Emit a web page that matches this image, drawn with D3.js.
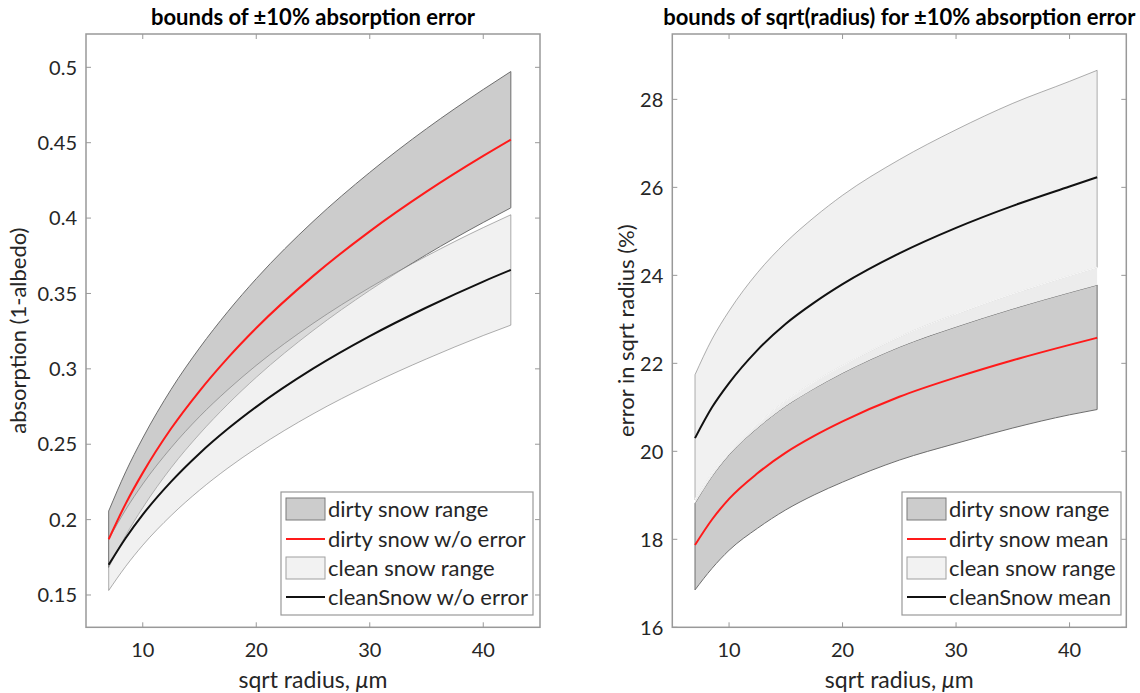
<!DOCTYPE html>
<html><head><meta charset="utf-8">
<script src="https://cdn.jsdelivr.net/npm/d3@7"></script>
<style>body{margin:0;background:#fff}svg{display:block}text{font-family:Lato,"Open Sans",sans-serif;fill:#262626}</style>
</head><body><svg id="c" width="1140" height="693"></svg>
<script>
// sqrt radius sample points (µm)
const sqrtRadius = [7, 8.5, 10, 12.5, 15, 17.5, 20, 25, 30, 35, 40, 42.43];

// Left panel: absorption (1-albedo)
const dirtyMean   = [0.187, 0.2106, 0.231, 0.2604, 0.2853, 0.3073, 0.3271, 0.3615, 0.3912, 0.4175, 0.4412, 0.452];
const dirtyUpper  = [0.2057, 0.2317, 0.2541, 0.2864, 0.3138, 0.3380, 0.3598, 0.3977, 0.4303, 0.4593, 0.4853, 0.4972];
const dirtyLower  = [0.1683, 0.1895, 0.2079, 0.2344, 0.2568, 0.2766, 0.2944, 0.3254, 0.3521, 0.3758, 0.3971, 0.4068];
const cleanMean   = [0.170, 0.1878, 0.2033, 0.2252, 0.2439, 0.2602, 0.2748, 0.3001, 0.3217, 0.3407, 0.3579, 0.3656];
const cleanUpper  = [0.1870, 0.2066, 0.2236, 0.2477, 0.2683, 0.2862, 0.3023, 0.3301, 0.3539, 0.3748, 0.3937, 0.4022];
const cleanLower  = [0.1530, 0.1690, 0.1830, 0.2027, 0.2195, 0.2342, 0.2473, 0.2701, 0.2895, 0.3066, 0.3221, 0.3290];

// Right panel: error in sqrt radius (%)
const dirtyErrMean  = [17.87, 18.45, 18.92, 19.50, 19.97, 20.35, 20.68, 21.24, 21.68, 22.07, 22.42, 22.58];
const dirtyErrUpper = [18.82, 19.43, 19.92, 20.53, 21.03, 21.43, 21.78, 22.37, 22.83, 23.24, 23.61, 23.78];
const dirtyErrLower = [16.85, 17.34, 17.75, 18.25, 18.67, 19.01, 19.30, 19.80, 20.18, 20.53, 20.83, 20.95];
const cleanErrMean  = [20.30, 21.00, 21.55, 22.30, 22.90, 23.38, 23.80, 24.50, 25.08, 25.58, 26.02, 26.23];
const cleanErrUpper = [21.74, 22.55, 23.19, 24.06, 24.75, 25.32, 25.82, 26.63, 27.31, 27.91, 28.41, 28.66];
const cleanErrLower = [18.90, 19.50, 19.98, 20.62, 21.15, 21.58, 21.95, 22.60, 23.12, 23.58, 23.99, 24.18];

const xTicks = [10, 20, 30, 40];
const yTicksLeft = [0.15, 0.2, 0.25, 0.3, 0.35, 0.4, 0.45, 0.5];
const yTicksRight = [16, 18, 20, 22, 24, 26, 28];

const titles = ["bounds of ±10% absorption error", "bounds of sqrt(radius) for ±10% absorption error"];
const yLabels = ["absorption (1-albedo)", "error in sqrt radius (%)"];
const legendLeft = ["dirty snow range", "dirty snow w/o error", "clean snow range", "cleanSnow w/o error"];
const legendRight = ["dirty snow range", "dirty snow mean", "clean snow range", "cleanSnow mean"];

const svg = d3.select("#c");
const AX = "#999999";

function panel(opt) {
  const x = d3.scaleLinear().domain([5, 45]).range([opt.left, opt.left + 454]);
  const y = d3.scaleLinear().domain(opt.yDomain).range([627.3, 34]);
  const g = svg.append("g");
  const idx = d3.range(sqrtRadius.length);
  const area = (lo, hi) => d3.area().x(i => x(sqrtRadius[i])).y0(i => y(lo[i])).y1(i => y(hi[i])).curve(d3.curveMonotoneX)(idx);
  const line = (v) => d3.line().x(i => x(sqrtRadius[i])).y(i => y(v[i])).curve(d3.curveMonotoneX)(idx);

  // dirty band
  g.append("path").attr("d", area(opt.dLo, opt.dHi) + "Z").attr("fill", "#cccccc").attr("stroke", "#6e6e6e").attr("stroke-width", 1);
  if (opt.fillGap) {
    g.append("path").attr("d", area(opt.dHi, opt.cLo)).attr("fill", "#ececec");
  }
  // clean band (semi-transparent, drawn on top)
  g.append("path").attr("d", area(opt.cLo, opt.cHi) + "Z").attr("fill", "#e6e6e6").attr("fill-opacity", 0.55)
    .attr("stroke", "#6e6e6e").attr("stroke-opacity", 0.55).attr("stroke-width", 1);
  if (opt.fillGap) {
    g.append("path").attr("d", line(opt.cLo)).attr("fill", "none").attr("stroke", "#f4f4f4").attr("stroke-width", 1.5);
  }
  g.append("path").attr("d", line(opt.dMean)).attr("fill", "none").attr("stroke", "#ff1a1a").attr("stroke-width", 2);
  g.append("path").attr("d", line(opt.cMean)).attr("fill", "none").attr("stroke", "#111").attr("stroke-width", 2);

  // axes box
  const x0 = x.range()[0], x1 = x.range()[1], y0 = 627.3, y1 = 34;
  g.append("rect").attr("x", x0).attr("y", y1).attr("width", x1 - x0).attr("height", y0 - y1)
    .attr("fill", "none").attr("stroke", AX).attr("stroke-width", 1.5);
  const tl = 5;
  xTicks.forEach(t => {
    g.append("line").attr("x1", x(t)).attr("x2", x(t)).attr("y1", y0).attr("y2", y0 - tl).attr("stroke", AX);
    g.append("line").attr("x1", x(t)).attr("x2", x(t)).attr("y1", y1).attr("y2", y1 + tl).attr("stroke", AX);
    g.append("text").attr("x", x(t)).attr("y", 657).attr("text-anchor", "middle").attr("font-size", 20).text(t);
  });
  opt.yTicks.forEach(t => {
    g.append("line").attr("x1", x0).attr("x2", x0 + tl).attr("y1", y(t)).attr("y2", y(t)).attr("stroke", AX);
    g.append("line").attr("x1", x1).attr("x2", x1 - tl).attr("y1", y(t)).attr("y2", y(t)).attr("stroke", AX);
    g.append("text").attr("x", x0 - 9).attr("y", y(t)).attr("dy", "0.36em").attr("text-anchor", "end").attr("font-size", 20).text(opt.fmt(t));
  });
  // x label
  const xl = g.append("text").attr("x", (x0 + x1) / 2).attr("y", 688).attr("text-anchor", "middle").attr("font-size", 23);
  xl.append("tspan").text("sqrt radius, ");
  xl.append("tspan").attr("font-style", "italic").text("\u03bc");
  xl.append("tspan").text("m");
  // y label
  g.append("text").attr("transform", `translate(${opt.yLabelX},${(y0 + y1) / 2}) rotate(-90)`).attr("text-anchor", "middle")
    .attr("font-size", 22).text(opt.yLabel);
  // title
  g.append("text").attr("x", (x0 + x1) / 2).attr("y", 25).attr("text-anchor", "middle").attr("font-size", 22)
    .attr("font-weight", "bold").style("fill", "#000").text(opt.title);

  // legend
  const L = opt.legend;
  g.append("rect").attr("x", L.x).attr("y", 492).attr("width", L.w).attr("height", 123).attr("fill", "#fff").attr("stroke", AX).attr("stroke-width", 1.2);
  const rows = [509, 539, 568, 597];
  const sx = L.x + 5, sw = 39;
  g.append("rect").attr("x", sx).attr("y", rows[0] - 11).attr("width", sw).attr("height", 22).attr("fill", "#cccccc").attr("stroke", "#7a7a7a");
  g.append("line").attr("x1", sx).attr("x2", sx + sw).attr("y1", rows[1]).attr("y2", rows[1]).attr("stroke", "#ff1a1a").attr("stroke-width", 2);
  g.append("rect").attr("x", sx).attr("y", rows[2] - 11).attr("width", sw).attr("height", 22).attr("fill", "#f2f2f2").attr("stroke", "#a0a0a0");
  g.append("line").attr("x1", sx).attr("x2", sx + sw).attr("y1", rows[3]).attr("y2", rows[3]).attr("stroke", "#111").attr("stroke-width", 2);
  opt.legendText.forEach((t, i) => {
    g.append("text").attr("x", sx + sw + 3).attr("y", rows[i]).attr("dy", "0.36em").attr("font-size", 22).text(t);
  });
}

panel({ left: 86, yDomain: [0.12857, 0.5221], yTicks: yTicksLeft, fmt: d => String(d),
  dLo: dirtyLower, dHi: dirtyUpper, dMean: dirtyMean, cLo: cleanLower, cHi: cleanUpper, cMean: cleanMean,
  title: titles[0], yLabel: yLabels[0], yLabelX: 26, legend: { x: 281, w: 252 }, legendText: legendLeft, fillGap: false });

panel({ left: 672.3, yDomain: [16, 29.486], yTicks: yTicksRight, fmt: d => String(d),
  dLo: dirtyErrLower, dHi: dirtyErrUpper, dMean: dirtyErrMean, cLo: cleanErrLower, cHi: cleanErrUpper, cMean: cleanErrMean,
  title: titles[1], yLabel: yLabels[1], yLabelX: 634, legend: { x: 902, w: 219 }, legendText: legendRight, fillGap: true });
</script></body></html>
